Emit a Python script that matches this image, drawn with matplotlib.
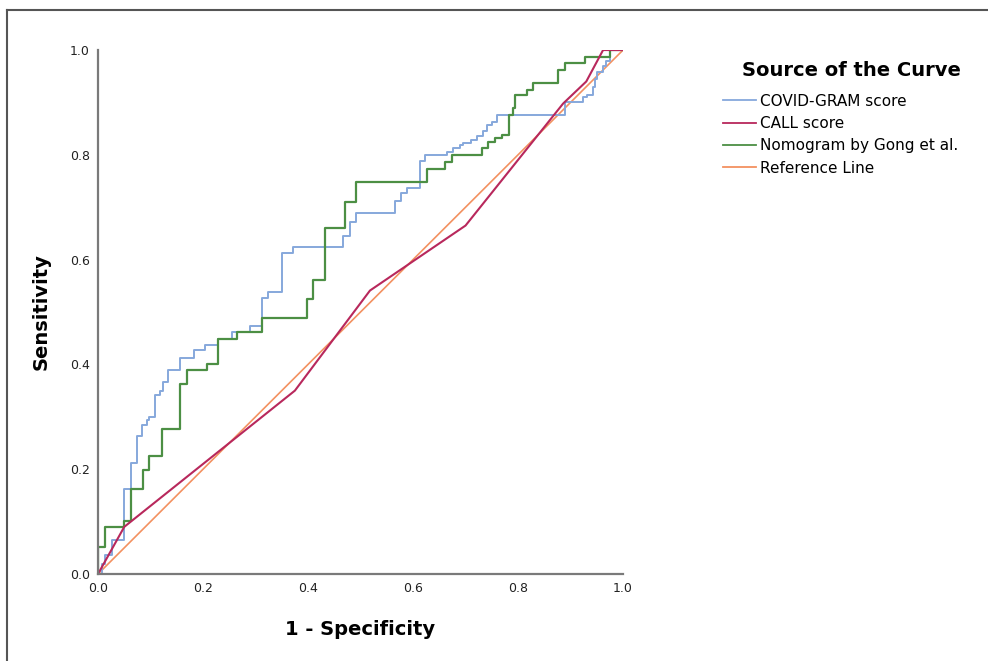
import matplotlib
matplotlib.use("Agg")
import matplotlib.pyplot as plt
from matplotlib.lines import Line2D

# ROC points (1 - specificity, sensitivity)
covid_fpr = [0, 0.008, 0.013, 0.027, 0.05, 0.063, 0.075, 0.084, 0.093, 0.097, 0.109, 0.118,
             0.124, 0.134, 0.156, 0.182, 0.204, 0.229, 0.255, 0.29, 0.312, 0.324, 0.35,
             0.372, 0.467, 0.48, 0.492, 0.566, 0.578, 0.588, 0.613, 0.623, 0.665, 0.677,
             0.69, 0.696, 0.71, 0.721, 0.734, 0.74, 0.75, 0.759, 0.889, 0.924, 0.931,
             0.943, 0.947, 0.95, 0.962, 0.968, 0.975, 1.0]
covid_tpr = [0, 0.02, 0.036, 0.064, 0.162, 0.212, 0.263, 0.284, 0.294, 0.30, 0.341, 0.35,
             0.366, 0.389, 0.413, 0.427, 0.437, 0.449, 0.462, 0.474, 0.527, 0.538, 0.613,
             0.625, 0.646, 0.672, 0.689, 0.711, 0.727, 0.736, 0.789, 0.80, 0.806, 0.813,
             0.818, 0.822, 0.829, 0.836, 0.846, 0.857, 0.863, 0.876, 0.901, 0.91, 0.914,
             0.93, 0.945, 0.958, 0.97, 0.979, 1.0, 1.0]

call_fpr = [0, 0.05, 0.375, 0.518, 0.70, 0.886, 0.93, 0.962, 1.0]
call_tpr = [0, 0.09, 0.35, 0.541, 0.665, 0.898, 0.94, 1.0, 1.0]

gong_fpr = [0, 0, 0.013, 0.05, 0.063, 0.085, 0.097, 0.122, 0.156, 0.169, 0.207, 0.229,
            0.264, 0.312, 0.398, 0.41, 0.432, 0.47, 0.492, 0.626, 0.661, 0.674, 0.731,
            0.743, 0.756, 0.769, 0.782, 0.79, 0.794, 0.817, 0.829, 0.876, 0.889, 0.928,
            0.975, 1.0]
gong_tpr = [0, 0.052, 0.089, 0.102, 0.162, 0.198, 0.225, 0.276, 0.363, 0.389, 0.40, 0.449,
            0.462, 0.489, 0.525, 0.561, 0.66, 0.71, 0.749, 0.773, 0.787, 0.80, 0.813,
            0.825, 0.832, 0.838, 0.876, 0.889, 0.914, 0.924, 0.937, 0.962, 0.975, 0.987,
            1.0, 1.0]

ref_x = [0, 1]
ref_y = [0, 1]

labels = ["COVID-GRAM score", "CALL score", "Nomogram by Gong et al.", "Reference Line"]
colors = ["#86a8dc", "#b8285c", "#4c8f44", "#f39160"]

plt.rcParams["font.family"] = ["DejaVu Sans"]

fig = plt.figure(figsize=(9.88, 6.61), dpi=100)
ax = fig.add_axes([0.0992, 0.1316, 0.5314, 0.7927])

ax.plot(ref_x, ref_y, color=colors[3], lw=1.2)
ax.plot(covid_fpr, covid_tpr, color=colors[0], lw=1.4, drawstyle="steps-post")
ax.plot(gong_fpr, gong_tpr, color=colors[2], lw=1.6, drawstyle="steps-post")
ax.plot(call_fpr, call_tpr, color=colors[1], lw=1.5)

ax.set_xlim(0, 1)
ax.set_ylim(0, 1)
ticks = [0.0, 0.2, 0.4, 0.6, 0.8, 1.0]
ax.set_xticks(ticks)
ax.set_yticks(ticks)
ax.set_xticklabels(["%.1f" % t for t in ticks])
ax.set_yticklabels(["%.1f" % t for t in ticks])
ax.tick_params(length=0, labelsize=9, pad=6, colors="#222222")
for s in ["top", "right"]:
    ax.spines[s].set_visible(False)
for s in ["left", "bottom"]:
    ax.spines[s].set_color("#7a7a7a")
    ax.spines[s].set_linewidth(1.6)

ax.set_xlabel("1 - Specificity", fontsize=14, fontweight="bold", labelpad=18)
ax.set_ylabel("Sensitivity", fontsize=14, fontweight="bold", labelpad=14)

fig.text(851 / 988, 1 - 71 / 661, "Source of the Curve", fontsize=14, fontweight="bold",
         ha="center", va="center")
handles = [Line2D([], [], color=c, lw=1.3) for c in colors]
fig.legend(handles, labels, loc="upper left", bbox_to_anchor=(0.727, 1 - 89 / 661),
           frameon=False, fontsize=11, handlelength=2.2, handletextpad=0.2,
           labelspacing=0.48, borderaxespad=0, borderpad=0.3)

# image frame (top and left edges)
fig.add_artist(Line2D([0.007, 1.0], [0.985, 0.985], color="#555555", lw=1.5))
fig.add_artist(Line2D([0.007, 0.007], [0.0, 0.985], color="#555555", lw=1.5))

fig.savefig("out.png", dpi=100)
